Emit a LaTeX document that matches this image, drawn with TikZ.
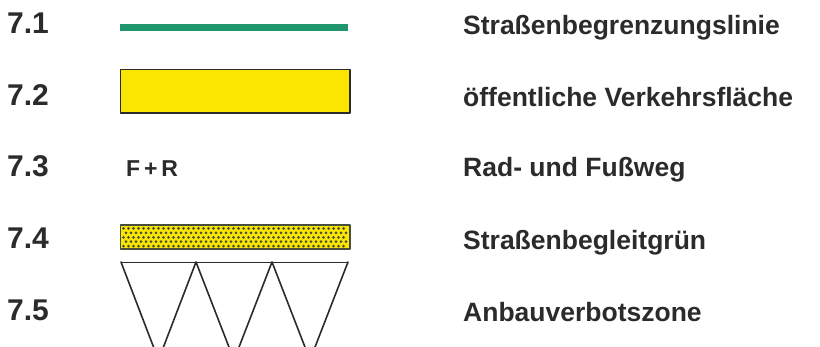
\documentclass[tikz,border=0pt]{standalone}
\usepackage{fontspec}
\setmainfont{Liberation Sans}
\usetikzlibrary{positioning}
\definecolor{ink}{RGB}{42,44,42}
\definecolor{bordergreen}{RGB}{32,150,108}
\definecolor{roadyellow}{RGB}{250,230,0}
\definecolor{dotgray}{RGB}{72,78,62}

\begin{document}
\begin{tikzpicture}[x=1pt,y=-1pt,line cap=round,line join=round,
    num/.style={anchor=base west,inner sep=0pt,text=ink,
      font=\fontsize{30}{32}\selectfont\bfseries},
    desc/.style={anchor=base west,inner sep=0pt,text=ink,
      font=\fontsize{26.5}{30}\selectfont\bfseries}]
    \useasboundingbox[fill=white] (0,0) rectangle (820,347);
    \clip (0,0) rectangle (820,347);
    % numbers and descriptions
    \node[num] (n1) at (7,34) {7.1};
    \node[num] (n2) at (7,106) {7.2};
    \node[num] (n3) at (7,177) {7.3};
    \node[num] (n4) at (7,249) {7.4};
    \node[num] (n5) at (7,321) {7.5};
    \node[desc] (d1) at (463,35) {Straßenbegrenzungslinie};
    \node[desc] (d2) at (463,107) {öffentliche Verkehrsfläche};
    \node[desc] (d3) at (463,177) {Rad- und Fußweg};
    \node[desc] (d4) at (463,250) {Straßenbegleitgrün};
    \node[desc] (d5) at (463,322) {Anbauverbotszone};
    % 7.1
    \draw[bordergreen,line width=7pt,line cap=butt] (120,28) -- (348,28);
    % 7.2
    \draw[fill=roadyellow,draw=ink,line width=1.4pt] (120.5,69.5) rectangle (350,113);
    % 7.3
    \node[anchor=base west,inner sep=0pt,text=ink,
      font=\fontsize{23}{25}\selectfont\bfseries] (fr) at (126,177) {F\,+\,R};
    % 7.4
    \fill[roadyellow] (120.5,225) rectangle (350,249);
    \foreach \i in {0,...,44}{
      \foreach \j in {0,2,4}
        \fill[dotgray] ({123.5+\i*5},{228.5+\j*4.4}) circle (1.5pt);
      \foreach \j in {1,3}
        \fill[dotgray] ({126+\i*5},{228.5+\j*4.4}) circle (1.5pt);
    }
    \draw[dotgray,line width=1.1pt] (120.5,225) rectangle (350,249);
    % 7.5
    \coordinate (z0) at (121,262);
    \coordinate (z1) at (196,262);
    \coordinate (z2) at (272,262);
    \coordinate (z3) at (348,262);
    \coordinate (v1) at (158.5,360);
    \coordinate (v2) at (234,360);
    \coordinate (v3) at (310,360);
    \draw[ink,line width=0.8pt] (z0) -- (z3);
    \draw[ink,line width=1.6pt] (z0) -- (v1) -- (z1) -- (v2) -- (z2) -- (v3) -- (z3);
\end{tikzpicture}
\end{document}
